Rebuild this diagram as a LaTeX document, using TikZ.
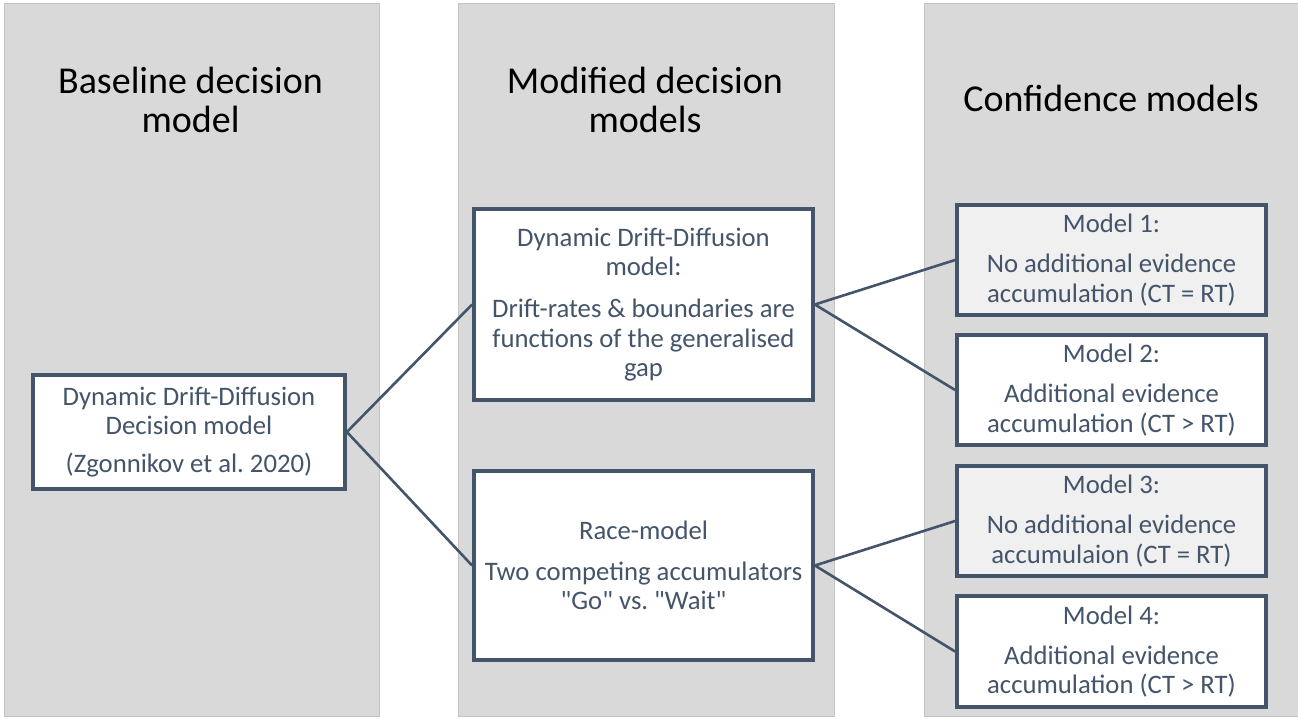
\documentclass[tikz,border=0pt]{standalone}
\usepackage{fontspec}
\setmainfont{Carlito}
\definecolor{slate}{HTML}{44546A}
\definecolor{panel}{HTML}{D9D9D9}
\definecolor{paneledge}{HTML}{C4C4C4}
\definecolor{shade}{HTML}{F0F0F0}
\newcommand{\sq}{\textquotedbl}
\begin{document}
\frenchspacing
\begin{tikzpicture}[x=1pt,y=-1pt,
  panel/.style={fill=panel,draw=paneledge,line width=0.8pt},
  heading/.style={align=center,text=black,inner sep=0pt,
    font=\fontsize{38}{39}\selectfont},
  modelbox/.style={draw=slate,line width=3.8pt,fill=white,align=center,
    text=slate,inner sep=0pt,font=\fontsize{26.7}{29.3}\selectfont},
  confbox/.style={modelbox,minimum width=309pt,minimum height=110pt},
  link/.style={draw=slate,line width=2.6pt}]

% page and the three column panels
\useasboundingbox (0,0) rectangle (1298,718);
\fill[white] (0,0) rectangle (1298,718);
\path[panel] (4,3) rectangle (379,716);
\path[panel] (458,3) rectangle (834,716);
\path[panel] (924,3) rectangle (1299,716);

% column headings
\node[heading] (h1) at (190.5,99.5) {Baseline decision\\model};
\node[heading] (h2) at (645,99.5) {Modified decision\\models};
\node[heading] (h3) at (1111,98) {Confidence models};

% baseline model
\node[modelbox,minimum width=312pt,minimum height=114pt] (base) at (189,432)
  {Dynamic Drift-Diffusion\\Decision model\\[9pt](Zgonnikov et al. 2020)};

% modified decision models
\node[modelbox,minimum width=339pt,minimum height=191pt] (ddm) at (643.5,304.5)
  {Dynamic Drift-Diffusion\\model:\\[13pt]Drift-rates \& boundaries are\\functions of the generalised\\gap};
\node[modelbox,minimum width=339pt,minimum height=189pt] (race) at (643.5,565.5)
  {Race-model\\[12pt]Two competing accumulators\\\sq Go\sq{} vs. \sq Wait\sq};

% confidence models
\node[confbox,fill=shade] (m1) at (1111.5,260)
  {Model 1:\\[11pt]No additional evidence\\accumulation (CT = RT)};
\node[confbox] (m2) at (1111.5,390)
  {Model 2:\\[11pt]Additional evidence\\accumulation (CT > RT)};
\node[confbox,fill=shade] (m3) at (1111.5,521)
  {Model 3:\\[11pt]No additional evidence\\accumulaion (CT = RT)};
\node[confbox,minimum height=111pt] (m4) at (1111.5,651.5)
  {Model 4:\\[11pt]Additional evidence\\accumulation (CT > RT)};

% connectors
\draw[link] (base.east) -- (ddm.west);
\draw[link] (base.east) -- (race.west);
\draw[link] (ddm.east) -- (m1.west);
\draw[link] (ddm.east) -- (m2.west);
\draw[link] (race.east) -- (m3.west);
\draw[link] (race.east) -- (m4.west);
\end{tikzpicture}
\end{document}
